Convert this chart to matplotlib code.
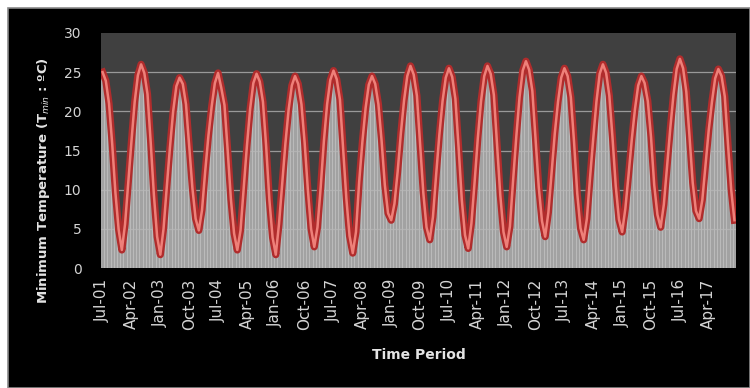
import matplotlib
matplotlib.use("Agg")
import matplotlib.pyplot as plt
from matplotlib.patches import Rectangle
import numpy as np

# Monthly minimum temperature (°C), Jul-2001 .. Dec-2017
tmin_2001 = [25.0, 23.9, 21.0, 15.8, 9.6, 4.9]
tmin_2002 = [2.3, 5.6, 10.9, 16.2, 21.2, 24.6, 26.0, 24.9, 22.2, 16.0, 9.3, 4.0]
tmin_2003 = [1.7, 5.0, 10.3, 15.4, 20.0, 23.2, 24.3, 23.5, 20.9, 15.6, 10.2, 6.3]
tmin_2004 = [4.8, 7.4, 12.4, 16.9, 20.6, 23.6, 24.9, 23.0, 20.8, 15.0, 8.8, 4.4]
tmin_2005 = [2.3, 4.8, 10.2, 15.6, 20.3, 23.6, 24.8, 23.8, 21.2, 15.5, 8.7, 3.9]
tmin_2006 = [1.7, 5.6, 10.8, 15.9, 20.2, 23.3, 24.5, 23.5, 20.9, 16.0, 10.0, 5.0]
tmin_2007 = [2.7, 5.2, 10.3, 16.2, 20.9, 24.0, 25.2, 24.1, 21.5, 15.3, 8.9, 4.1]
tmin_2008 = [1.9, 4.6, 11.0, 16.1, 20.4, 23.4, 24.5, 23.5, 20.9, 16.2, 10.6, 7.0]
tmin_2009 = [6.1, 8.2, 12.3, 17.2, 21.4, 24.5, 25.8, 24.7, 22.0, 15.9, 9.6, 5.2]
tmin_2010 = [3.6, 6.5, 11.9, 17.0, 21.3, 24.3, 25.5, 24.4, 21.6, 15.4, 8.7, 4.2]
tmin_2011 = [2.5, 5.7, 11.0, 16.6, 21.3, 24.5, 25.8, 24.8, 22.1, 15.8, 9.3, 4.6]
tmin_2012 = [2.7, 5.3, 11.2, 16.8, 21.8, 25.2, 26.4, 25.3, 22.6, 16.4, 10.3, 6.0]
tmin_2013 = [4.0, 7.1, 12.2, 17.2, 21.2, 24.3, 25.5, 24.5, 21.8, 16.1, 9.5, 5.1]
tmin_2014 = [3.6, 6.3, 11.6, 16.6, 21.3, 24.8, 26.0, 24.9, 22.0, 16.6, 10.5, 6.2]
tmin_2015 = [4.6, 7.6, 11.9, 16.4, 20.3, 23.3, 24.5, 23.6, 21.3, 16.7, 10.6, 6.8]
tmin_2016 = [5.2, 8.1, 12.9, 17.8, 22.1, 25.4, 26.7, 25.5, 22.5, 16.8, 10.9, 7.3]
tmin_2017 = [6.3, 8.7, 13.1, 17.6, 21.2, 24.2, 25.4, 24.5, 21.9, 15.8, 10.0, 6.1]

tick_labels = ["Jul-01", "Apr-02", "Jan-03", "Oct-03", "Jul-04", "Apr-05",
               "Jan-06", "Oct-06", "Jul-07", "Apr-08", "Jan-09", "Oct-09",
               "Jul-10", "Apr-11", "Jan-12", "Oct-12", "Jul-13", "Apr-14",
               "Jan-15", "Oct-15", "Jul-16", "Apr-17"]
tick_step = 9
y_ticks = [0, 5, 10, 15, 20, 25, 30]

tmin = (tmin_2001 + tmin_2002 + tmin_2003 + tmin_2004 + tmin_2005 + tmin_2006 +
        tmin_2007 + tmin_2008 + tmin_2009 + tmin_2010 + tmin_2011 + tmin_2012 +
        tmin_2013 + tmin_2014 + tmin_2015 + tmin_2016 + tmin_2017)
x = np.arange(len(tmin))

fig = plt.figure(figsize=(7.5, 3.88), dpi=100, facecolor="white")
# black chart frame
fig.patches.append(Rectangle((8 / 750, 0), 1 - 8 / 750, 1 - 8 / 388,
                             transform=fig.transFigure, facecolor="black",
                             edgecolor="#8a8a8a", linewidth=1.2, zorder=-10))

ax = fig.add_axes([101 / 750, 1 - 268 / 388, 635 / 750, 235 / 388])
ax.set_zorder(5)
ax.set_facecolor("#404040")

ax.bar(x, tmin, width=1.0, color="#a2a2a2", edgecolor="#c8c8c8",
       linewidth=0.45, zorder=1)
for yv in y_ticks[1:-1]:
    ax.axhline(yv, color="#b8b8b8", linewidth=0.9, alpha=0.75, zorder=2)
ax.plot(x, tmin, color="#b02c2c", linewidth=5.2, solid_joinstyle="round", zorder=3)
ax.plot(x, tmin, color="#ee8079", linewidth=1.8, solid_joinstyle="round", zorder=4)

ax.set_xlim(-0.5, len(tmin) - 0.5)
ax.set_ylim(0, 30)
ax.set_yticks(y_ticks)
ax.set_xticks(x[::tick_step][:len(tick_labels)])
ax.set_xticklabels(tick_labels, rotation=90)
for s in ax.spines.values():
    s.set_visible(False)
ax.tick_params(axis="both", length=0, colors="#d4d4d4")
ax.tick_params(axis="y", pad=14, labelsize=10)
ax.tick_params(axis="x", pad=8, labelsize=11)

ax.set_ylabel("Minimum Temperature (T$_{min}$ : ºC)", color="#e4e4e4",
              fontsize=9.5, fontweight="bold", labelpad=8)
ax.yaxis.set_label_coords(-0.077, 0.37)
fig.text(419 / 750, 1 - 355 / 388, "Time Period", color="#e4e4e4",
         fontsize=10, fontweight="bold", ha="center", va="center")

fig.savefig("out.png", dpi=100, facecolor=fig.get_facecolor())
